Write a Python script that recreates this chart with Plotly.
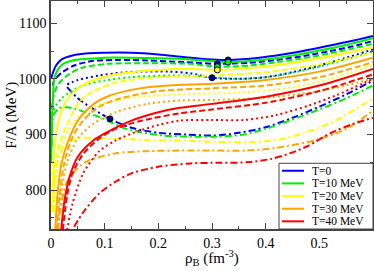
import plotly.graph_objects as go

legend_names = ["T=0", "T=10 MeV", "T=20 MeV", "T=30 MeV", "T=40 MeV"]
colors = ["#0000ff", "#00ee00", "#ffff00", "#ffa500", "#ff0000"]

# ---- T = 0 (blue) ----
rho_t0_solid = [0.0, 0.005, 0.01, 0.02, 0.04, 0.07, 0.1, 0.15, 0.2, 0.25, 0.3, 0.33, 0.37, 0.42, 0.47, 0.52, 0.56, 0.6]
F_t0_solid = [1000, 1015, 1025, 1035, 1042, 1046, 1047, 1047, 1044, 1039, 1035, 1034, 1036, 1042, 1050, 1060, 1068, 1077]
rho_t0_dash = [0.003, 0.006, 0.02, 0.043, 0.077, 0.12, 0.18, 0.25, 0.31, 0.37, 0.42, 0.47, 0.52, 0.56, 0.6]
F_t0_dash = [988, 997, 1011, 1024, 1032, 1034, 1033, 1030, 1027, 1029, 1034, 1041, 1050, 1058, 1068]
rho_t0_dot = [0.03, 0.05, 0.09, 0.13, 0.17, 0.22, 0.26, 0.3, 0.35, 0.4, 0.45, 0.5, 0.55, 0.6]
F_t0_dot = [990, 998, 1006, 1011, 1013, 1013, 1010, 1002, 1000, 1003, 1012, 1024, 1038, 1053]
rho_t0_dashdot = [0.03, 0.05, 0.08, 0.11, 0.15, 0.2, 0.25, 0.3, 0.35, 0.4, 0.45, 0.5, 0.55, 0.6]
F_t0_dashdot = [985, 965, 945, 928, 912, 903, 900, 898, 903, 913, 930, 950, 972, 997]

# ---- T = 10 MeV (green) ----
rho_t10_solid = [0.0003, 0.0015, 0.003, 0.006, 0.012, 0.02, 0.04, 0.07, 0.1, 0.15, 0.2, 0.26, 0.33, 0.4, 0.45, 0.5, 0.55, 0.6]
F_t10_solid = [850, 900, 950, 1000, 1015, 1025, 1033, 1036, 1038, 1038, 1037, 1035, 1030, 1035, 1042, 1051, 1061, 1073]
rho_t10_dash = [0.0008, 0.003, 0.012, 0.03, 0.058, 0.108, 0.18, 0.26, 0.31, 0.37, 0.42, 0.47, 0.52, 0.56, 0.6]
F_t10_dash = [880, 961, 988, 1006, 1020, 1027, 1028, 1027, 1022, 1024, 1030, 1037, 1046, 1054, 1063]
rho_t10_dot = [0.0008, 0.003, 0.02, 0.059, 0.1, 0.15, 0.217, 0.26, 0.3, 0.35, 0.4, 0.45, 0.5, 0.55, 0.6]
F_t10_dot = [900, 940, 965, 988, 997, 1003, 1006, 1006, 1003, 1000, 1003, 1011, 1022, 1035, 1049]
rho_t10_dashdot = [0.001, 0.005, 0.015, 0.03, 0.045, 0.07, 0.096, 0.14, 0.21, 0.26, 0.31, 0.36, 0.4, 0.445, 0.5, 0.55, 0.6]
F_t10_dashdot = [880, 935, 947, 949, 946, 938, 929, 910, 898, 896, 896, 900, 910, 925, 945, 965, 988]

# ---- T = 20 MeV (yellow) ----
rho_t20_solid = [0.002, 0.005, 0.01, 0.02, 0.03, 0.05, 0.08, 0.12, 0.2, 0.26, 0.31, 0.4, 0.5, 0.6]
F_t20_solid = [760, 850, 905, 943, 962, 983, 998, 1008, 1016, 1018, 1016, 1022, 1037, 1057]
rho_t20_dash = [0.004, 0.01, 0.028, 0.06, 0.12, 0.2, 0.3, 0.4, 0.5, 0.6]
F_t20_dash = [760, 860, 913, 966, 993, 1003, 1006, 1012, 1026, 1046]
rho_t20_dot = [0.006, 0.015, 0.04, 0.08, 0.15, 0.26, 0.35, 0.45, 0.52, 0.6]
F_t20_dot = [760, 860, 920, 950, 966, 973, 975, 985, 1000, 1025]
rho_t20_dashdot = [0.004, 0.01, 0.025, 0.05, 0.1, 0.18, 0.24, 0.3, 0.365, 0.42, 0.47, 0.53, 0.6]
F_t20_dashdot = [760, 840, 880, 893, 893, 890, 889, 887, 886, 890, 902, 925, 965]

# ---- T = 30 MeV (orange) ----
rho_t30_solid = [0.008, 0.012, 0.02, 0.034, 0.05, 0.08, 0.11, 0.16, 0.22, 0.3, 0.4, 0.5, 0.6]
F_t30_solid = [728, 790, 850, 893, 925, 955, 970, 982, 988, 991, 998, 1013, 1038]
rho_t30_dash = [0.011, 0.016, 0.025, 0.04, 0.06, 0.09, 0.13, 0.2, 0.3, 0.4, 0.5, 0.6]
F_t30_dash = [728, 790, 850, 895, 925, 950, 965, 978, 983, 988, 1003, 1030]
rho_t30_dot = [0.013, 0.02, 0.03, 0.05, 0.08, 0.12, 0.18, 0.24, 0.3, 0.4, 0.5, 0.6]
F_t30_dot = [728, 800, 850, 893, 920, 940, 955, 961, 962, 966, 978, 1000]
rho_t30_dashdot = [0.012, 0.02, 0.03, 0.05, 0.07, 0.12, 0.18, 0.24, 0.3, 0.365, 0.42, 0.49, 0.55, 0.6]
F_t30_dashdot = [728, 780, 815, 840, 853, 866, 870, 871, 871, 871, 876, 889, 910, 943]

# ---- T = 40 MeV (red) ----
rho_t40_solid = [0.019, 0.025, 0.035, 0.05, 0.08, 0.11, 0.15, 0.2, 0.24, 0.3, 0.4, 0.5, 0.6]
F_t40_solid = [728, 780, 825, 860, 890, 907, 925, 940, 948, 955, 968, 988, 1018]
rho_t40_dash = [0.022, 0.03, 0.04, 0.06, 0.09, 0.12, 0.17, 0.24, 0.3, 0.4, 0.5, 0.6]
F_t40_dash = [728, 790, 830, 865, 893, 910, 925, 938, 945, 957, 978, 1008]
rho_t40_dot = [0.03, 0.04, 0.06, 0.09, 0.12, 0.16, 0.2, 0.24, 0.3, 0.36, 0.42, 0.48, 0.53, 0.6]
F_t40_dot = [728, 775, 830, 870, 889, 905, 917, 925, 926, 926, 935, 952, 970, 1000]
rho_t40_dashdot = [0.043, 0.06, 0.09, 0.12, 0.15, 0.2, 0.26, 0.3, 0.365, 0.41, 0.445, 0.48, 0.52, 0.56, 0.6]
F_t40_dashdot = [734, 760, 794, 815, 830, 842, 848, 849, 850, 856, 866, 880, 902, 918, 930]

# ---- marked points ----
rho_marks_blue = [0.33, 0.31, 0.30, 0.11]
F_marks_blue = [1034, 1027, 1002, 928]
rho_marks_green = [0.33, 0.31]
F_marks_green = [1030, 1022]
rho_marks_yellow = [0.31]
F_marks_yellow = [1016]

curves = [
    (0, "dashdot", rho_t0_dashdot, F_t0_dashdot),
    (1, "dashdot", rho_t10_dashdot, F_t10_dashdot),
    (2, "dashdot", rho_t20_dashdot, F_t20_dashdot),
    (3, "dashdot", rho_t30_dashdot, F_t30_dashdot),
    (4, "dashdot", rho_t40_dashdot, F_t40_dashdot),
    (0, "dot", rho_t0_dot, F_t0_dot),
    (1, "dot", rho_t10_dot, F_t10_dot),
    (2, "dot", rho_t20_dot, F_t20_dot),
    (3, "dot", rho_t30_dot, F_t30_dot),
    (4, "dot", rho_t40_dot, F_t40_dot),
    (0, "dash", rho_t0_dash, F_t0_dash),
    (1, "dash", rho_t10_dash, F_t10_dash),
    (2, "dash", rho_t20_dash, F_t20_dash),
    (3, "dash", rho_t30_dash, F_t30_dash),
    (4, "dash", rho_t40_dash, F_t40_dash),
    (0, "solid", rho_t0_solid, F_t0_solid),
    (1, "solid", rho_t10_solid, F_t10_solid),
    (2, "solid", rho_t20_solid, F_t20_solid),
    (3, "solid", rho_t30_solid, F_t30_solid),
    (4, "solid", rho_t40_solid, F_t40_solid),
]

dash_map = {"solid": "solid", "dash": "6px,3px", "dot": "2px,3px", "dashdot": "7px,3px,2px,3px"}

fig = go.Figure()
for idx, style, xs, ys in curves:
    fig.add_trace(go.Scatter(
        x=xs, y=ys, mode="lines",
        line=dict(color=colors[idx], width=2, dash=dash_map[style], shape="spline", smoothing=0.8),
        name=legend_names[idx], showlegend=False, hoverinfo="skip",
    ))

for xs, ys, c in [(rho_marks_blue, F_marks_blue, "#00008b"),
                  (rho_marks_green, F_marks_green, "#00ee00"),
                  (rho_marks_yellow, F_marks_yellow, "#ffff00")]:
    fig.add_trace(go.Scatter(x=xs, y=ys, mode="markers",
                             marker=dict(size=6, color=c, line=dict(color="#000050", width=1)),
                             showlegend=False, hoverinfo="skip"))

serif = "Liberation Serif, Times New Roman, Times, serif"
axis_common = dict(
    showline=True, linecolor="#444444", linewidth=1.5, mirror="allticks",
    ticks="inside", ticklen=6, tickwidth=1, tickcolor="#444444",
    showgrid=False, zeroline=False, automargin=False,
    tickfont=dict(family=serif, size=14, color="black"),
)

# ---- hand-drawn legend box (paper coordinates of the plot area) ----
W, H, L, T = 322.0, 229.0, 51.0, 0.0
def px_x(p):
    return (p - L) / W
def px_y(p):
    return (T + H - p) / H

shapes = [dict(type="rect", xref="paper", yref="paper",
               x0=px_x(279), x1=px_x(373), y0=px_y(229), y1=px_y(163),
               line=dict(color="#444444", width=1), fillcolor="white", layer="above")]
annotations = []
row_y = [170.5, 183.2, 195.9, 208.6, 221.3]
for i, nm in enumerate(legend_names):
    shapes.append(dict(type="line", xref="paper", yref="paper",
                       x0=px_x(282), x1=px_x(304), y0=px_y(row_y[i]), y1=px_y(row_y[i]),
                       line=dict(color=colors[i], width=2), layer="above"))
    annotations.append(dict(text=nm, xref="paper", yref="paper", x=px_x(311), y=px_y(row_y[i]),
                            xanchor="left", yanchor="middle", showarrow=False,
                            height=12, borderpad=0,
                            font=dict(family=serif, size=11.5, color="black")))

annotations += [
    dict(text="F/A (MeV)", xref="paper", yref="paper", x=-0.125, y=0.5,
         textangle=-90, showarrow=False, font=dict(family=serif, size=15),
         xanchor="center", yanchor="middle"),
    dict(text="ρ<sub>B</sub> (fm<sup>-3</sup>)", xref="paper", yref="paper", x=0.5, y=-0.125,
         showarrow=False, font=dict(family=serif, size=15),
         xanchor="center", yanchor="middle"),
]

fig.update_layout(
    width=374, height=271,
    margin=dict(l=51, r=1, t=1, b=42, autoexpand=False),
    paper_bgcolor="white", plot_bgcolor="white",
    font=dict(family=serif, color="black"),
    xaxis=dict(range=[0, 0.6], tickvals=[0, 0.1, 0.2, 0.3, 0.4, 0.5],
               ticktext=["0", "0.1", "0.2", "0.3", "0.4", "0.5"],
               minor=dict(dtick=0.05, tick0=0, ticks="inside", ticklen=3, tickcolor="#444444"),
               **axis_common),
    yaxis=dict(range=[730, 1140], tickvals=[800, 900, 1000, 1100],
               minor=dict(dtick=50, tick0=0, ticks="inside", ticklen=3, tickcolor="#444444"),
               **axis_common),
    showlegend=False,
    shapes=shapes,
    annotations=annotations,
)

fig.write_html("out.html", config={"displayModeBar": False},
               post_script="document.body.style.margin='0';document.body.style.padding='0';")
